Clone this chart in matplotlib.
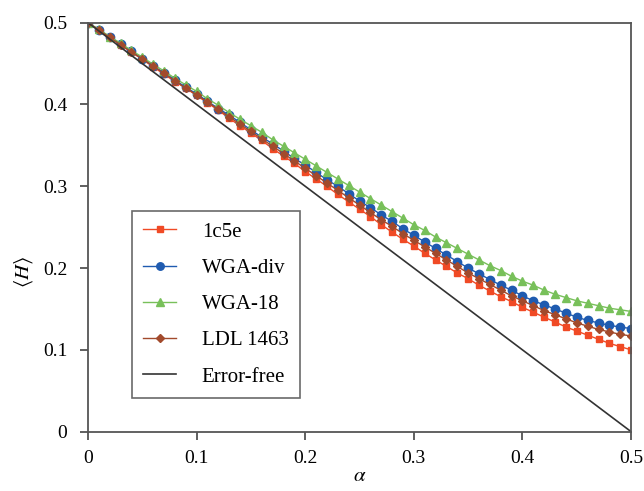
import matplotlib
matplotlib.use('Agg')
import matplotlib.pyplot as plt

plt.rcParams['font.family'] = ['Liberation Serif', 'DejaVu Serif']
plt.rcParams['mathtext.fontset'] = 'stix'

# alpha grid (step 0.01)
alpha = [0.00, 0.01, 0.02, 0.03, 0.04, 0.05, 0.06, 0.07, 0.08, 0.09,
         0.10, 0.11, 0.12, 0.13, 0.14, 0.15, 0.16, 0.17, 0.18, 0.19,
         0.20, 0.21, 0.22, 0.23, 0.24, 0.25, 0.26, 0.27, 0.28, 0.29,
         0.30, 0.31, 0.32, 0.33, 0.34, 0.35, 0.36, 0.37, 0.38, 0.39,
         0.40, 0.41, 0.42, 0.43, 0.44, 0.45, 0.46, 0.47, 0.48, 0.49, 0.50]

h_1c5e = [0.500, 0.491, 0.482, 0.473, 0.464, 0.455, 0.446, 0.437, 0.428, 0.420,
          0.411, 0.402, 0.393, 0.383, 0.374, 0.365, 0.356, 0.346, 0.337, 0.328,
          0.318, 0.309, 0.300, 0.290, 0.281, 0.272, 0.263, 0.253, 0.244, 0.235,
          0.227, 0.218, 0.210, 0.202, 0.194, 0.187, 0.179, 0.172, 0.165, 0.159,
          0.152, 0.146, 0.140, 0.134, 0.128, 0.123, 0.118, 0.113, 0.108, 0.104, 0.100]

h_wga_div = [0.500, 0.491, 0.483, 0.474, 0.465, 0.456, 0.447, 0.439, 0.430, 0.421,
             0.413, 0.404, 0.395, 0.387, 0.378, 0.369, 0.360, 0.352, 0.343, 0.334,
             0.326, 0.317, 0.308, 0.300, 0.291, 0.282, 0.274, 0.265, 0.257, 0.248,
             0.240, 0.232, 0.224, 0.216, 0.208, 0.200, 0.193, 0.186, 0.179, 0.173,
             0.166, 0.160, 0.155, 0.150, 0.145, 0.140, 0.136, 0.133, 0.130, 0.128, 0.126]

h_wga_18 = [0.500, 0.492, 0.483, 0.475, 0.466, 0.458, 0.449, 0.441, 0.432, 0.424,
            0.416, 0.407, 0.399, 0.390, 0.382, 0.374, 0.366, 0.357, 0.349, 0.341,
            0.333, 0.325, 0.317, 0.309, 0.301, 0.293, 0.285, 0.277, 0.269, 0.261,
            0.253, 0.246, 0.238, 0.231, 0.224, 0.217, 0.210, 0.203, 0.197, 0.190,
            0.184, 0.179, 0.173, 0.168, 0.164, 0.160, 0.157, 0.154, 0.151, 0.149, 0.147]

h_ldl = [0.500, 0.491, 0.482, 0.473, 0.464, 0.456, 0.447, 0.438, 0.429, 0.420,
         0.412, 0.403, 0.394, 0.385, 0.376, 0.367, 0.358, 0.349, 0.340, 0.331,
         0.322, 0.313, 0.304, 0.295, 0.286, 0.277, 0.268, 0.259, 0.251, 0.242,
         0.234, 0.226, 0.218, 0.210, 0.202, 0.194, 0.187, 0.180, 0.173, 0.166,
         0.160, 0.154, 0.148, 0.143, 0.138, 0.133, 0.129, 0.125, 0.122, 0.119, 0.117]

# error-free reference line end points
ef_alpha = [0.0, 0.5]
ef_h = [0.5, 0.0]

fig = plt.figure(figsize=(6.44, 4.91), dpi=100)
ax = fig.add_axes([0.1366, 0.1208, 0.8434, 0.833])

ax.plot(alpha, h_1c5e, color='#f04a25', marker='s', markersize=5, lw=1, label='1c5e')
ax.plot(alpha, h_wga_div, color='#1f5bb0', marker='o', markersize=6, lw=1, label='WGA-div')
ax.plot(alpha, h_wga_18, color='#78c05a', marker='^', markersize=6, lw=1, label='WGA-18')
ax.plot(alpha, h_ldl, color='#a24a2c', marker='D', markersize=4.5, lw=1, label='LDL 1463')
ax.plot(ef_alpha, ef_h, color='#333333', lw=1.2, label='Error-free')

ax.set_xlim(0, 0.5)
ax.set_ylim(0, 0.5)
ax.set_xticks([0, 0.1, 0.2, 0.3, 0.4, 0.5])
ax.set_yticks([0, 0.1, 0.2, 0.3, 0.4, 0.5])
ax.set_xticklabels(['0', '0.1', '0.2', '0.3', '0.4', '0.5'])
ax.set_yticklabels(['0', '0.1', '0.2', '0.3', '0.4', '0.5'])
ax.tick_params(direction='out', length=6, width=1.2, color='#444444',
               labelsize=14)
ax.tick_params(axis='x', pad=7)
ax.tick_params(axis='y', pad=9)
for s in ax.spines.values():
    s.set_color('#555555')
    s.set_linewidth(1.3)

ax.set_xlabel(r'$\alpha$', fontsize=15, labelpad=0)
ax.set_ylabel(r'$\langle H\rangle$', fontsize=15)
ax.yaxis.set_label_coords(-0.098, 0.39)

leg = ax.legend(loc='lower left', bbox_to_anchor=(0.081, 0.082), borderaxespad=0,
                fontsize=15, frameon=True, fancybox=False, edgecolor='#444444',
                handlelength=1.55, handletextpad=1.25, labelspacing=0.8,
                borderpad=0.55, markerscale=0.9)
leg.get_frame().set_linewidth(1.2)

plt.savefig('out.png', dpi=100)
